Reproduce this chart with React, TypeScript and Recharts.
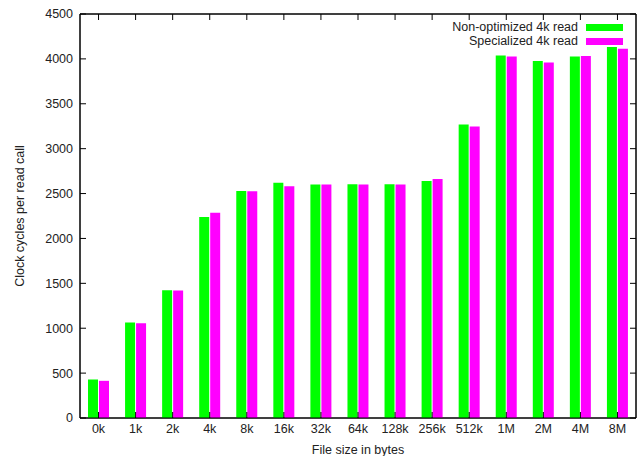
import { ComposedChart, Bar, Line, XAxis, YAxis, ReferenceArea } from "recharts";

document.body.style.margin = "0";

const SIZES = ["0k", "1k", "2k", "4k", "8k", "16k", "32k", "64k", "128k", "256k", "512k", "1M", "2M", "4M", "8M"];
const NON_OPTIMIZED = [429, 1063, 1422, 2238, 2529, 2620, 2600, 2605, 2605, 2640, 3270, 4037, 3977, 4026, 4133];
const SPECIALIZED = [414, 1056, 1419, 2286, 2526, 2581, 2600, 2600, 2600, 2662, 3248, 4026, 3959, 4033, 4114];
const Y_TICKS = [0, 500, 1000, 1500, 2000, 2500, 3000, 3500, 4000, 4500];

const SERIES = [
  { key: "nonOpt", name: "Non-optimized 4k read", color: "#00ff00" },
  { key: "spec", name: "Specialized 4k read", color: "#ff00ff" },
];

const data = SIZES.map((size, i) => ({
  size,
  nonOpt: NON_OPTIMIZED[i],
  spec: SPECIALIZED[i],
}));

const FONT = "'Liberation Sans', Arial, sans-serif";
const tickStyle = { fill: "#222", fontSize: 12.5, fontFamily: FONT };

const EmptyTick = () => <g />;

function ChartLegend() {
  return (
    <div style={{ position: "absolute", top: 20, right: 21, fontFamily: FONT, fontSize: 12.5, color: "#222" }}>
      {SERIES.map((s) => (
        <div key={s.key} style={{ display: "flex", alignItems: "center", justifyContent: "flex-end", height: 14 }}>
          <span style={{ whiteSpace: "nowrap" }}>{s.name}</span>
          <span style={{ display: "inline-block", width: 37, height: 7, marginLeft: 8, backgroundColor: s.color }} />
        </div>
      ))}
    </div>
  );
}

export default function App() {
  return (
    <div style={{ position: "relative", width: 644, height: 456, background: "#fff" }}>
      <ComposedChart
        width={644}
        height={456}
        data={data}
        margin={{ top: 12, right: 6, bottom: 0, left: 0 }}
        barSize={10}
        barGap={1}
      >
        <XAxis
          dataKey="size"
          tick={tickStyle}
          tickSize={-6}
          tickMargin={12}
          height={38}
          stroke="#000"
          interval={0}
          label={{ value: "File size in bytes", position: "insideBottom", offset: 2, style: tickStyle }}
        />
        {/* mirrored axes on top and right: inward ticks, no labels */}
        <XAxis xAxisId="top" dataKey="size" orientation="top" height={2} tick={EmptyTick} tickSize={-6} stroke="#000" interval={0} />
        <YAxis
          domain={[0, 4500]}
          ticks={Y_TICKS}
          tick={tickStyle}
          tickSize={-6}
          tickMargin={13}
          width={80}
          stroke="#000"
          label={{
            value: "Clock cycles per read call",
            angle: -90,
            position: "insideLeft",
            offset: 20,
            style: { ...tickStyle, textAnchor: "middle" },
          }}
        />
        <YAxis
          yAxisId="right"
          orientation="right"
          domain={[0, 4500]}
          ticks={Y_TICKS}
          tick={EmptyTick}
          tickSize={-6}
          width={2}
          stroke="#000"
        />
        <ReferenceArea x1="0k" x2="8M" y1={0} y2={4500} fill="none" stroke="#000" strokeWidth={1} ifOverflow="visible" />
        {SERIES.map((s) => (
          <Bar key={s.key} dataKey={s.key} name={s.name} fill={s.color} isAnimationActive={false} />
        ))}
        <Line
          xAxisId="top"
          yAxisId="right"
          dataKey="nonOpt"
          stroke="none"
          dot={false}
          activeDot={false}
          legendType="none"
          isAnimationActive={false}
        />
      </ComposedChart>
      <ChartLegend />
    </div>
  );
}
